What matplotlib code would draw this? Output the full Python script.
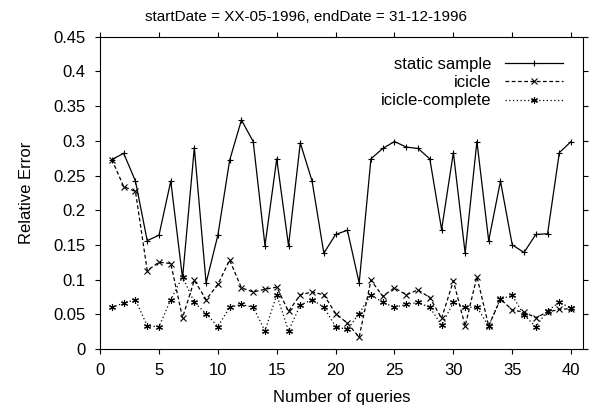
import matplotlib
matplotlib.use("Agg")
import matplotlib.pyplot as plt

plt.rcParams['font.family'] = ['Liberation Sans', 'DejaVu Sans']

queries = list(range(1, 41))

static_sample = [0.273, 0.282, 0.242, 0.156, 0.164, 0.242, 0.102, 0.290, 0.095, 0.164,
                 0.272, 0.330, 0.299, 0.149, 0.274, 0.149, 0.297, 0.242, 0.138, 0.165,
                 0.171, 0.095, 0.274, 0.289, 0.299, 0.291, 0.289, 0.274, 0.172, 0.283,
                 0.138, 0.299, 0.156, 0.242, 0.150, 0.139, 0.165, 0.166, 0.283, 0.299]

icicle = [0.273, 0.234, 0.227, 0.113, 0.125, 0.123, 0.045, 0.099, 0.071, 0.093,
          0.128, 0.088, 0.082, 0.086, 0.089, 0.054, 0.078, 0.082, 0.078, 0.051,
          0.037, 0.017, 0.099, 0.076, 0.088, 0.078, 0.085, 0.074, 0.044, 0.098,
          0.033, 0.104, 0.033, 0.072, 0.056, 0.053, 0.045, 0.053, 0.057, 0.058]

icicle_complete = [0.060, 0.066, 0.071, 0.033, 0.032, 0.071, 0.104, 0.067, 0.051, 0.032,
                   0.060, 0.064, 0.060, 0.026, 0.078, 0.026, 0.063, 0.071, 0.060, 0.032,
                   0.028, 0.051, 0.078, 0.067, 0.060, 0.064, 0.067, 0.060, 0.034, 0.067,
                   0.060, 0.060, 0.033, 0.072, 0.077, 0.049, 0.032, 0.055, 0.067, 0.059]

fig = plt.figure(figsize=(5.96, 4.09), dpi=100)
ax = fig.add_axes([0.168, 0.147, 0.81, 0.763])

ax.plot(queries, static_sample, color='black', lw=0.9, marker='+', ms=5, mew=0.8,
        label='static sample')
ax.plot(queries, icicle, color='black', lw=0.9, ls=(0, (3, 2)), marker='x', ms=4.5, mew=0.8,
        label='icicle')
ax.plot(queries, icicle_complete, color='black', lw=0.9, ls=(0, (1, 2)), marker=(6, 2, 0),
        ms=5, mew=0.8, label='icicle-complete')

ax.set_xlim(0, 41)
ax.set_ylim(0, 0.45)
ax.set_xticks(range(0, 41, 5))
ax.set_yticks([0, 0.05, 0.1, 0.15, 0.2, 0.25, 0.3, 0.35, 0.4, 0.45])
ax.set_yticklabels(['0', '0.05', '0.1', '0.15', '0.2', '0.25', '0.3', '0.35', '0.4', '0.45'])
ax.tick_params(direction='out', top=True, right=True, length=3.5, labelsize=12, pad=7)
ax.set_xlabel('Number of queries', fontsize=12, labelpad=8)
ax.set_ylabel('Relative Error', fontsize=12, labelpad=14)
fig.text(306 / 596, 1 - 17 / 409, 'startDate = XX-05-1996, endDate = 31-12-1996',
         fontsize=11, ha='center', va='center')

ax.legend(loc='upper right', frameon=False, markerfirst=False, fontsize=12,
          handlelength=3.5, labelspacing=0.2, borderaxespad=0.8, handletextpad=0.8)

fig.savefig('out.png', dpi=100)
